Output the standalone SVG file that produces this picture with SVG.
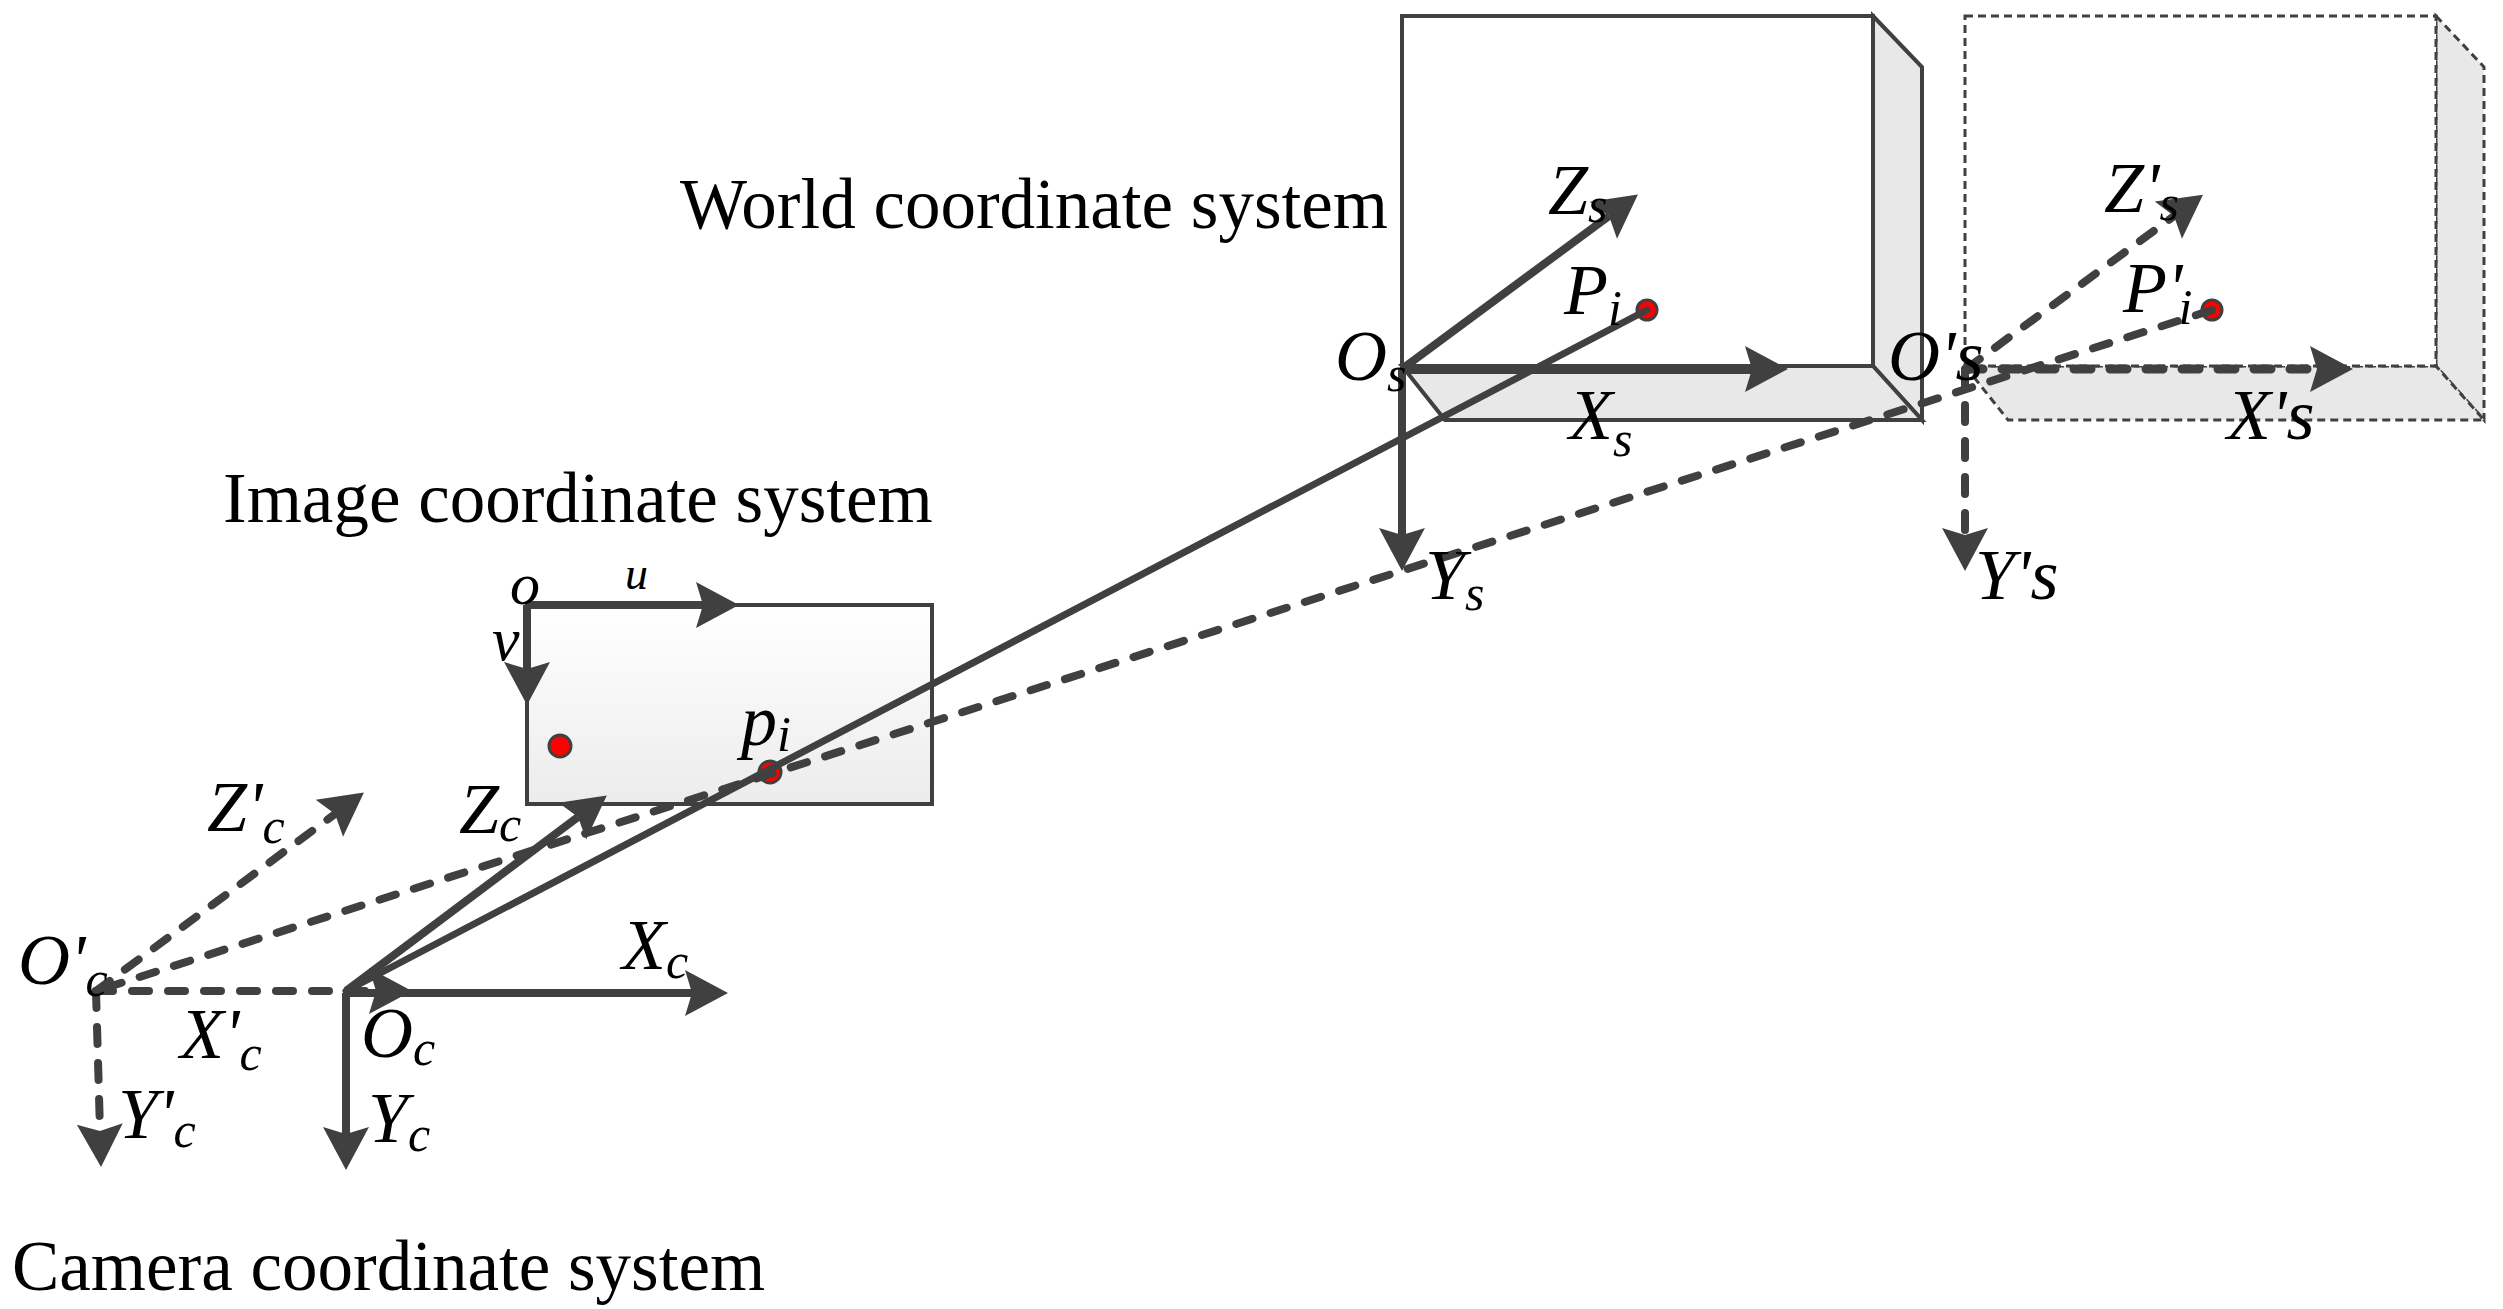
<svg xmlns="http://www.w3.org/2000/svg" width="2503" height="1309" viewBox="0 0 2503 1309">
<style>
text{font-family:"Liberation Serif","Times New Roman",serif;fill:#000}
.t{font-size:71px}
.l{font-size:72px;font-style:italic}
.s{font-size:50px}
.f{fill:#e8e8e8;stroke:#404040;stroke-width:4;stroke-linejoin:miter}
.f2{fill:#e8e8e8;stroke:#404040;stroke-width:3;stroke-dasharray:8 5}
.a{fill:none;stroke:#404040;stroke-width:8;marker-end:url(#h)}
.d{stroke-dasharray:17 19;stroke-linecap:round}
.p{fill:none;stroke:#404040;stroke-width:7}
.dot{fill:#f00;stroke:#404040;stroke-width:3}
</style>
<defs>
<marker id="h" markerUnits="userSpaceOnUse" markerWidth="60" markerHeight="60" viewBox="-10 -30 60 60" refX="7" refY="0" orient="auto"><path d="M0 -23L43 0L0 23L7 0Z" fill="#404040"/></marker>
<linearGradient id="g" x1="0" y1="0" x2="0" y2="1"><stop offset="0" stop-color="#fff"/><stop offset="1" stop-color="#ececec"/></linearGradient>
</defs>
<rect width="2503" height="1309" fill="#fff"/>
<g id="world-box">
<path class="f" d="M1873 16L1922 67V420L1873 366Z"/>
<path class="f" d="M1402 366H1873L1922 420H1445Z"/>
<rect x="1402" y="16" width="471" height="350" fill="#fff" stroke="#404040" stroke-width="4"/>
</g>
<g id="world-box-moved">
<path class="f2" d="M2436 16L2484 67V420L2436 366Z"/>
<path class="f2" d="M1965 366H2436L2484 420H2008Z"/>
<rect x="1965" y="16" width="471" height="350" fill="#fff" stroke="#404040" stroke-width="3" stroke-dasharray="8 5"/>
</g>
<g id="image-plane">
<rect x="527" y="605" width="405" height="199" fill="url(#g)" stroke="#404040" stroke-width="4"/>
<circle class="dot" cx="560" cy="746" r="11"/>
<circle class="dot" cx="770" cy="772" r="11"/>
</g>
<g id="points">
<circle class="dot" cx="1647" cy="310" r="10"/>
<circle class="dot" cx="2212" cy="310" r="10"/>
</g>
<g id="connectors">
<path class="a" style="stroke-width:10" d="M1402 369H1752"/>
<path class="a" d="M1402 369L1609 216"/>
<path class="a" d="M1402 369V535"/>
<path class="p" stroke-linecap="round" d="M1647 310L346 991"/>
<path class="p d" style="stroke-width:8" d="M2212 310L96 991"/>
<path class="a d" style="stroke-width:9" d="M1966 369H2317"/>
<path class="a d" d="M1966 369L2174 216"/>
<path class="a d" d="M1965 369V535"/>
<path class="a" d="M527 605H703"/>
<path class="a" d="M527 605V669"/>
<path class="a" d="M346 993H692"/>
<path class="a" d="M346 993V1134"/>
<path class="a" d="M346 991L578 817"/>
<path class="a d" d="M96 991H376"/>
<path class="a d" d="M96 991L335 814"/>
<path class="a d" d="M96 991L100 1131"/>
</g>
<g id="titles">
<text class="t" x="680" y="228">World coordinate system</text>
<text class="t" x="223" y="522">Image coordinate system</text>
<text class="t" x="12" y="1290">Camera coordinate system</text>
</g>
<g id="labels">
<text class="l" x="1548" y="214">Z<tspan class="s" dy="8">s</tspan></text>
<text class="l" x="1564" y="314">P<tspan class="s" dy="11">i</tspan></text>
<text class="l" x="1335" y="380">O<tspan class="s" dy="11">s</tspan></text>
<text class="l" x="1569" y="439">X<tspan class="s" dy="17">s</tspan></text>
<text class="l" x="1425" y="599">Y<tspan class="s" dy="11">s</tspan></text>
<text class="l" x="1888" y="380">O's</text>
<text class="l" x="2104" y="212">Z'<tspan class="s" dy="8">s</tspan></text>
<text class="l" x="2123" y="312">P'<tspan class="s" dx="-4" dy="12">i</tspan></text>
<text class="l" x="2227" y="439">X's</text>
<text class="l" x="1975" y="599">Y's</text>
<text class="l" style="font-size:60px" x="510" y="604">o</text>
<text class="l" style="font-size:46px" x="625" y="589">u</text>
<text class="l" style="font-size:62px" x="492" y="660">v</text>
<text class="l" x="741" y="745">p<tspan class="s" dy="6">i</tspan></text>
<text class="l" x="459" y="833">Z<tspan class="s" dy="8">c</tspan></text>
<text class="l" x="207" y="831">Z'<tspan class="s" dy="12">c</tspan></text>
<text class="l" x="18" y="984">O'<tspan class="s" dy="12">c</tspan></text>
<text class="l" x="180" y="1058">X'<tspan class="s" dy="12">c</tspan></text>
<text class="l" x="622" y="969">X<tspan class="s" dy="9">c</tspan></text>
<text class="l" x="361" y="1057">O<tspan class="s" dy="8">c</tspan></text>
<text class="l" x="368" y="1142">Y<tspan class="s" dy="9">c</tspan></text>
<text class="l" x="118" y="1138">Y'<tspan class="s" dy="9">c</tspan></text>
</g>
</svg>
